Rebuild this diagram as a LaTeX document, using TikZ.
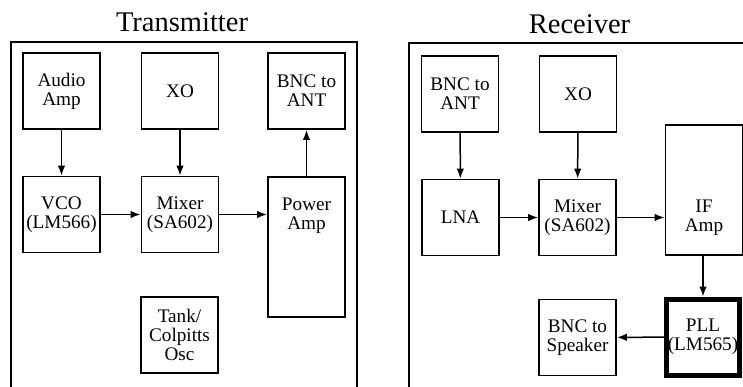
\documentclass[tikz,border=0pt]{standalone}
\usepackage{fontspec}
\setmainfont{Liberation Serif}
\usetikzlibrary{arrows.meta}

\begin{document}
\begin{tikzpicture}[x=1pt,y=-1pt]

\tikzset{
  BoxStyle/.style = { rectangle, draw, line width=1.8pt, align=center,
                      minimum width=77pt, minimum height=76pt, inner sep=0pt,
                      font = \fontsize{19.2}{19}\selectfont },
  LabelStyle/.style = { align=center, inner sep=0pt,
                        font = \fontsize{19.2}{19}\selectfont },
  TitleStyle/.style = { font = \fontsize{28.5}{30}\selectfont },
  FrameStyle/.style = { line width=1.8pt },
  EdgeStyle/.style = { line width=1.5pt, -{Latex[length=10pt,width=7.5pt]} } }

  \useasboundingbox (0,0) rectangle (743,386);
  \clip (0,0) rectangle (743,386);

  % transmitter
  \node[TitleStyle] (tt) at (182,22) {Transmitter};
  \draw[FrameStyle] (11,392) -- (11,42) -- (357,42) -- (357,392);

  \node[BoxStyle] (ta) at (61.5,91) {Audio\\Amp};
  \node[BoxStyle] (tx) at (180,91) {XO};
  \node[BoxStyle] (tb) at (306.5,91) {BNC to\\ANT};

  \node[BoxStyle] (tv) at (61.5,214.5) {VCO\\(LM566)};
  \node[BoxStyle] (tm) at (180,214.5) {Mixer\\(SA602)};
  \node[BoxStyle, minimum height=140pt,
        label={[LabelStyle, yshift=31pt]center:{Power\\Amp}}] (tp) at (306.5,247) {};

  \node[BoxStyle] (tk) at (179.5,335) {Tank/\\Colpitts\\Osc};

  \draw[EdgeStyle] (ta) -- (tv);
  \draw[EdgeStyle] (tx) -- (tm);
  \draw[EdgeStyle] (tv) -- (tm);
  \draw[EdgeStyle] (tm) -- (tm -| tp.west);
  \draw[EdgeStyle] (tp) -- (tb);

  % receiver
  \node[TitleStyle] (rt) at (579.5,24) {Receiver};
  \draw[FrameStyle] (409,392) -- (409,43) -- (750,43);

  \node[BoxStyle] (rb) at (460,94) {BNC to\\ANT};
  \node[BoxStyle] (rx) at (578,94) {XO};

  \node[BoxStyle] (rl) at (460.5,217.5) {LNA};
  \node[BoxStyle] (rm) at (577.5,217.5) {Mixer\\(SA602)};
  \node[BoxStyle, minimum height=130pt,
        label={[LabelStyle, yshift=-28pt]center:{IF\\Amp}}] (ri) at (704,190) {};

  \node[BoxStyle] (rs) at (577.5,337.5) {BNC to\\Speaker};
  \node[BoxStyle, line width=5pt, minimum width=73pt] (rp) at (703,337) {PLL\\(LM565)};

  \draw[EdgeStyle] (rb) -- (rl);
  \draw[EdgeStyle] (rx) -- (rm);
  \draw[EdgeStyle] (rl) -- (rm);
  \draw[EdgeStyle] (rm) -- (rm -| ri.west);
  \draw[EdgeStyle] (ri.south -| rp) -- (rp);
  \draw[EdgeStyle] (rp) -- (rs);

\end{tikzpicture}
\end{document}
